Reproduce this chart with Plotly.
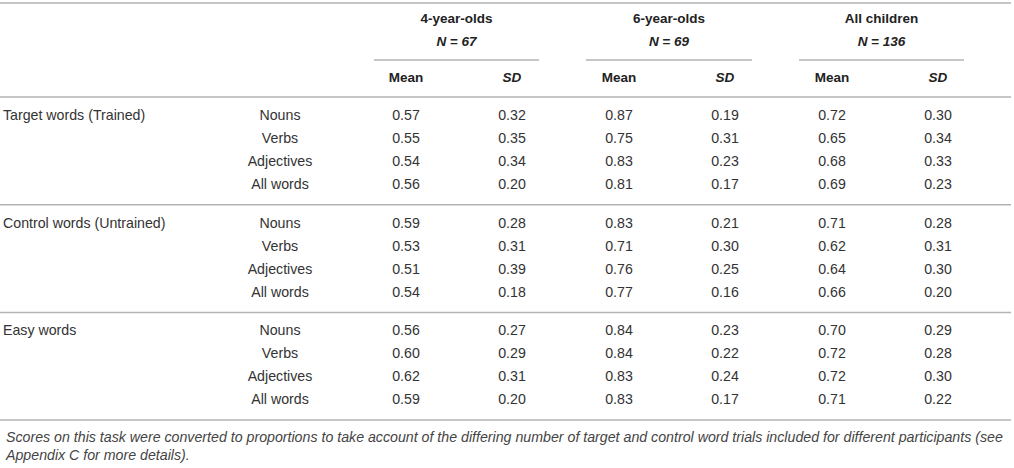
import plotly.graph_objects as go

groups = ["Target words (Trained)", "Control words (Untrained)", "Easy words"]
word_types = ["Nouns", "Verbs", "Adjectives", "All words"]
age_groups = ["4-year-olds", "6-year-olds", "All children"]
n_children = [67, 69, 136]

# one entry per row: 3 groups x 4 word types
mean_4 = [0.57, 0.55, 0.54, 0.56, 0.59, 0.53, 0.51, 0.54, 0.56, 0.60, 0.62, 0.59]
sd_4 = [0.32, 0.35, 0.34, 0.20, 0.28, 0.31, 0.39, 0.18, 0.27, 0.29, 0.31, 0.20]
mean_6 = [0.87, 0.75, 0.83, 0.81, 0.83, 0.71, 0.76, 0.77, 0.84, 0.84, 0.83, 0.83]
sd_6 = [0.19, 0.31, 0.23, 0.17, 0.21, 0.30, 0.25, 0.16, 0.23, 0.22, 0.24, 0.17]
mean_all = [0.72, 0.65, 0.68, 0.69, 0.71, 0.62, 0.64, 0.66, 0.70, 0.72, 0.72, 0.71]
sd_all = [0.30, 0.34, 0.33, 0.23, 0.28, 0.31, 0.30, 0.20, 0.29, 0.28, 0.30, 0.22]

footnote = ("Scores on this task were converted to proportions to take account of the differing "
            "number of target and control word trials included for different participants (see<br>"
            "Appendix C for more details).")

# layout of the table (pixel-like units, y grows downwards)
W, H = 1014, 468
label_x = 3
type_x = 280
mean_x = [406, 619, 832]
sd_x = [512, 725, 938]
span = [(374, 539), (586, 752), (799, 964)]
top_line = 3
head1_y, head2_y, rule_y, sub_y = 20, 43, 60, 79
body_top = 97
block_h = 107.7
row_h = 23
first_off = 19.5

font = "Liberation Sans"
ink = "#333333"
rule_col = "#b3b3b3"

row_y = []
for g in range(len(groups)):
    for k in range(len(word_types)):
        row_y.append(body_top + g * block_h + first_off + k * row_h)

data = []

# group labels (left aligned)
data.append(go.Scatter(
    x=[label_x] * len(groups),
    y=[row_y[g * len(word_types)] for g in range(len(groups))],
    text=groups, mode="text", textposition="middle right",
    textfont=dict(family=font, size=14.2, color=ink)
))

# word type column
data.append(go.Scatter(
    x=[type_x] * len(row_y), y=row_y,
    text=word_types * len(groups), mode="text", textposition="middle center",
    textfont=dict(family=font, size=14.2, color=ink)
))

# numbers
for xs, vals in zip(mean_x + sd_x, [mean_4, mean_6, mean_all, sd_4, sd_6, sd_all]):
    data.append(go.Scatter(
        x=[xs] * len(vals), y=row_y,
        text=[f"{v:.2f}" for v in vals], mode="text", textposition="middle center",
        textfont=dict(family=font, size=14.2, color=ink)
    ))

# headers
centers = [(a + b) / 2 for a, b in span]
data.append(go.Scatter(
    x=centers, y=[head1_y] * 3,
    text=[f"<b>{a}</b>" for a in age_groups], mode="text", textposition="middle center",
    textfont=dict(family=font, size=13.5, color="#222222")
))
data.append(go.Scatter(
    x=centers, y=[head2_y] * 3,
    text=[f"<b><i>N</i> = <i>{n}</i></b>" for n in n_children], mode="text",
    textposition="middle center",
    textfont=dict(family=font, size=13.5, color="#222222")
))
data.append(go.Scatter(
    x=mean_x + sd_x, y=[sub_y] * 6,
    text=["<b>Mean</b>"] * 3 + ["<b><i>SD</i></b>"] * 3, mode="text",
    textposition="middle center",
    textfont=dict(family=font, size=13.5, color="#222222")
))

shapes = []
for yy in [top_line] + [body_top + g * block_h for g in range(len(groups) + 1)]:
    shapes.append(dict(type="line", xref="x", yref="y", x0=0, x1=1011, y0=yy, y1=yy,
                       line=dict(color=rule_col, width=1.5)))
for a, b in span:
    shapes.append(dict(type="line", xref="x", yref="y", x0=a, x1=b, y0=rule_y, y1=rule_y,
                       line=dict(color=rule_col, width=1.5)))

layout = go.Layout(
    width=W, height=H,
    margin=dict(l=0, r=0, t=0, b=0),
    paper_bgcolor="white", plot_bgcolor="white",
    showlegend=False,
    xaxis=dict(range=[0, W], visible=False, fixedrange=True),
    yaxis=dict(range=[H, 0], visible=False, fixedrange=True),
    shapes=shapes,
    annotations=[dict(
        x=3, y=445.5, xref="x", yref="y", xanchor="left", yanchor="middle",
        text=f"<i>{footnote}</i>", showarrow=False, align="left",
        font=dict(family=font, size=14.2, color="#444444")
    )],
    hovermode=False,
)

fig = go.Figure(data=data, layout=layout)
# drop the page's default 8px body margin so the figure sits at the window corner
fig.write_html("out.html", post_script="document.body.style.margin='0';",
               config={"displayModeBar": False})
